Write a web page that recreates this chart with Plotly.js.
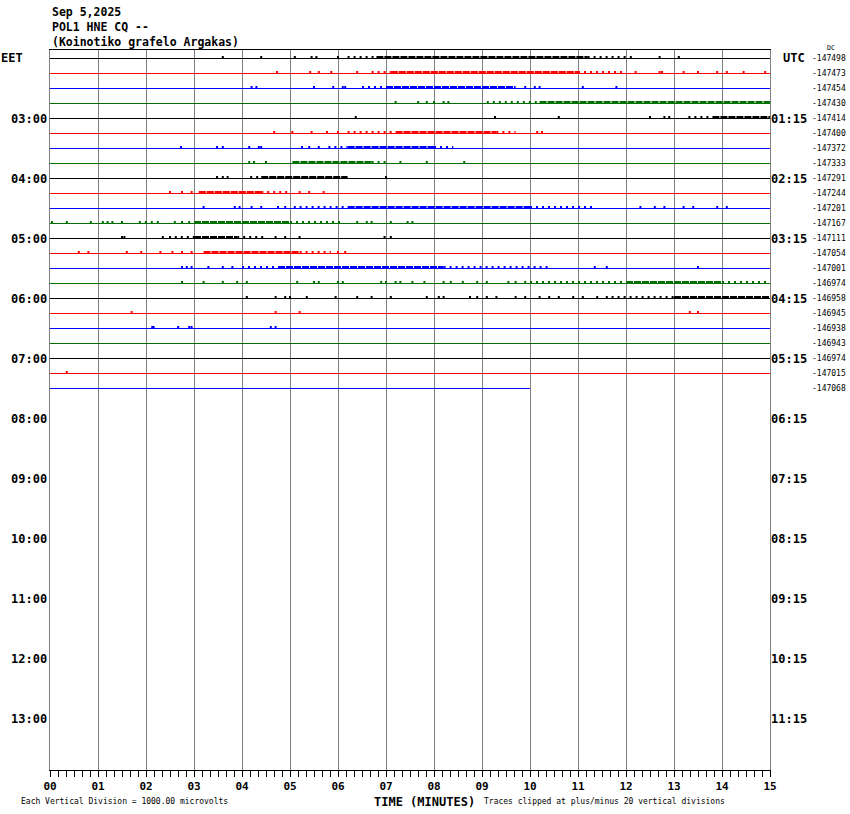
<!DOCTYPE html>
<html>
<head>
<meta charset="utf-8">
<script src="https://cdn.plot.ly/plotly-3.0.1.min.js"></script>
<style>
  html, body { margin: 0; padding: 0; background: #fff; }
  #chart { width: 850px; height: 814px; }
</style>
</head>
<body>
<div id="chart"></div>
<script>
// ---------------- DATA ----------------
const headerLines = ['Sep 5,2025', 'POL1 HNE CQ --', '(Koinotiko grafelo Argakas)'];
const firstRowHourEET = 2;          // first trace row starts at 02:00 EET
const rowMinutes = 15;              // each row covers 15 minutes
const lastRowEndMinute = 10;        // last row stops at minute 10
const eetHours = [3, 4, 5, 6, 7, 8, 9, 10, 11, 12, 13];
const eetLabels = ['03:00', '04:00', '05:00', '06:00', '07:00', '08:00', '09:00', '10:00', '11:00', '12:00', '13:00'];
const utcLabels = ['01:15', '02:15', '03:15', '04:15', '05:15', '06:15', '07:15', '08:15', '09:15', '10:15', '11:15'];
const xTickValues = [0, 1, 2, 3, 4, 5, 6, 7, 8, 9, 10, 11, 12, 13, 14, 15];
const xTickLabels = ['00', '01', '02', '03', '04', '05', '06', '07', '08', '09', '10', '11', '12', '13', '14', '15'];
const rowDC = [-147498, -147473, -147454, -147430, -147414, -147400, -147372, -147333,
               -147291, -147244, -147201, -147167, -147111, -147054, -147001, -146974,
               -146958, -146945, -146938, -146943, -146974, -147015, -147068];

// noise: dense bands, medium bands (minutes), isolated spikes (minutes)
const denseBands = [
  [[6.8, 11.2]], [[7.1, 11.0]], [[7.0, 9.7]], [[10.2, 15]], [[13.8, 15]], [[7.2, 9.3]],
  [[6.2, 8.0]], [[5.05, 6.7]], [[4.4, 6.2]], [[3.1, 4.4]], [[6.2, 10.0]], [[3.0, 5.0]],
  [[3.0, 3.9]], [[3.2, 5.2]], [[4.75, 8.2]], [[12.0, 14.0]], [[13.0, 15.0]],
  [], [], [], [], [], []
];
const mediumBands = [
  [[6.2, 6.8], [11.2, 12.0]], [[6.7, 7.1], [11.0, 12.0]], [[6.5, 7.0]], [[9.1, 10.2]], [[13.3, 13.8]],
  [[6.2, 7.2], [9.3, 9.7]], [[5.8, 6.2], [8.0, 8.4]], [[6.7, 7.0]], [[4.17, 4.4]], [[4.4, 5.0]],
  [[5.2, 6.2], [10.0, 11.3]], [[1.85, 2.3], [5.0, 6.1]], [[2.6, 3.0], [3.9, 4.5]], [[5.2, 5.85]],
  [[4.0, 4.75], [8.2, 10.4]], [[10.0, 12.0], [14.0, 15.0]], [[11.7, 13.0]],
  [], [], [], [], [], []
];
const spikes = [
  [3.6, 4.4, 5.1, 5.45, 5.55, 6.0, 12.1, 12.7, 13.1],
  [4.73, 5.42, 5.6, 5.86, 6.4, 12.2, 12.7, 12.75, 13.2, 13.5, 13.9, 14.1, 14.45, 14.9],
  [4.2, 4.3, 5.5, 5.9, 6.1, 6.15, 9.9, 10.1, 10.2, 11.1, 11.8],
  [7.2, 7.67, 7.85, 8.0, 8.2, 8.3],
  [6.37, 9.27, 10.6, 12.5, 12.8, 12.9],
  [4.67, 5.05, 5.45, 5.77, 6.0, 10.15, 10.25],
  [2.73, 3.48, 3.6, 4.15, 4.35, 4.4, 5.25, 5.4, 5.6],
  [4.15, 4.25, 4.5, 7.3, 7.85, 8.63],
  [3.48, 3.6, 3.7, 7.0],
  [2.5, 2.75, 2.95, 5.2, 5.4, 5.7],
  [3.2, 3.85, 3.95, 4.2, 4.4, 4.75, 4.9, 5.1, 12.3, 12.6, 12.8, 13.2, 13.4, 13.9, 14.1],
  [0.04, 0.35, 0.85, 1.1, 1.2, 1.3, 1.5, 2.6, 2.75, 2.9, 6.4, 6.6, 6.7, 7.1, 7.45, 7.55],
  [1.5, 1.55, 2.35, 2.5, 4.7, 4.9, 5.2, 6.97, 7.1],
  [0.6, 0.8, 1.6, 1.9, 2.3, 2.55, 2.75, 2.95, 6.0, 6.15],
  [2.75, 2.85, 2.95, 3.3, 3.6, 3.8, 11.35, 11.6, 13.5],
  [2.75, 3.2, 3.6, 3.9, 4.1, 5.15, 5.5, 5.6, 6.0, 6.1, 6.9, 7.0, 7.2, 7.3, 7.55, 7.8, 8.2, 8.35, 8.6, 8.9, 9.1, 9.55, 9.7, 9.9],
  [4.1, 4.7, 4.9, 5.0, 5.35, 5.95, 6.4, 6.7, 7.1, 7.85, 8.1, 8.2, 8.75, 8.9, 9.1, 9.3, 9.7, 9.9, 10.2, 10.4, 10.6, 10.9, 11.1, 11.4, 11.6],
  [1.7, 4.7, 5.2, 13.33, 13.5],
  [2.13, 2.16, 2.67, 2.9, 2.95, 4.6, 4.7],
  [], [], [0.35], []
];
const footLeft = 'Each Vertical Division = 1000.00 microvolts';
const footMid = 'TIME (MINUTES)';
const footRight = 'Traces clipped at plus/minus 20 vertical divisions';

// ---------------- STYLE / GEOMETRY ----------------
const W = 850, H = 814;
const M = { l: 50, r: 80, t: 50, b: 44 };
const plotH = H - M.t - M.b;               // 720
const hoursShown = 12;
const pxPerHour = plotH / hoursShown;      // 60
const PX = 1 / pxPerHour;                  // one pixel in hours
const yTop = firstRowHourEET - 8.5 * PX;
const yBottom = yTop + hoursShown;
const colors = ['#000000', '#ff0000', '#0000ff', '#007000'];
const MONO = 'DejaVu Sans Mono, Liberation Mono, monospace';

const nRows = rowDC.length;
const rowY = i => firstRowHourEET + i * rowMinutes / 60;

const groups = colors.map(() => ({ base: { x: [], y: [] }, dense: { x: [], y: [] }, med: { x: [], y: [] }, spk: { x: [], y: [] } }));
function seg(g, x0, x1, y0, y1) { g.x.push(x0, x1, null); g.y.push(y0, y1, null); }

for (let i = 0; i < nRows; i++) {
  const g = groups[i % 4];
  const y = rowY(i);
  const end = (i === nRows - 1) ? lastRowEndMinute : rowMinutes;
  seg(g.base, 0, end, y, y);
  denseBands[i].forEach(b => seg(g.dense, b[0], b[1], y - 1.5 * PX, y - 1.5 * PX));
  mediumBands[i].forEach(b => seg(g.med, b[0], b[1], y - 1.5 * PX, y - 1.5 * PX));
  spikes[i].forEach(m => seg(g.spk, m, m, y, y - 2.5 * PX));
}

const traces = [];
groups.forEach((g, k) => {
  const c = colors[k];
  traces.push({ type: 'scatter', mode: 'lines', x: g.base.x, y: g.base.y, line: { color: c, width: 1.2 }, hoverinfo: 'skip', connectgaps: false });
  traces.push({ type: 'scatter', mode: 'lines', x: g.dense.x, y: g.dense.y, line: { color: c, width: 2, dash: '7px,1px' }, hoverinfo: 'skip' });
  traces.push({ type: 'scatter', mode: 'lines', x: g.med.x, y: g.med.y, line: { color: c, width: 2, dash: '2px,4px' }, hoverinfo: 'skip' });
  traces.push({ type: 'scatter', mode: 'lines', x: g.spk.x, y: g.spk.y, line: { color: c, width: 2 }, hoverinfo: 'skip' });
});

const annotations = [];
const fontB = (s) => ({ family: MONO, size: s, color: '#000', weight: 'bold' });
const fontN = (s) => ({ family: MONO, size: s, color: '#000' });

// header
const headerPx = [12, 26.5, 41.5];
headerLines.forEach((t, i) => annotations.push({
  text: t, xref: 'paper', yref: 'paper', x: 0, y: 1, xanchor: 'left', yanchor: 'middle',
  yshift: M.t - headerPx[i], showarrow: false, font: fontB(11.5)
}));
// left EET / right UTC headers
annotations.push({ text: 'EET', xref: 'paper', yref: 'y', x: 0, y: rowY(0), xanchor: 'left', xshift: -M.l - 1, yanchor: 'middle', yshift: 1, showarrow: false, font: fontB(12) });
annotations.push({ text: 'UTC', xref: 'paper', yref: 'y', x: 1, y: rowY(0), xanchor: 'right', xshift: 37, yanchor: 'middle', yshift: 1, showarrow: false, font: fontB(12) });
// hour labels
eetHours.forEach((h, i) => {
  annotations.push({ text: eetLabels[i], xref: 'paper', yref: 'y', x: 0, y: h, xanchor: 'right', xshift: -1, yanchor: 'middle', showarrow: false, font: fontB(12) });
  annotations.push({ text: utcLabels[i], xref: 'paper', yref: 'y', x: 1, y: h, xanchor: 'right', xshift: 39, yanchor: 'middle', showarrow: false, font: fontB(12) });
});
// DC values
rowDC.forEach((v, i) => annotations.push({
  text: '-' + Math.abs(v), xref: 'paper', yref: 'y', x: 1, y: rowY(i), xanchor: 'left', xshift: 40,
  yanchor: 'middle', showarrow: false, font: fontN(8)
}));
annotations.push({ text: 'DC', xref: 'paper', yref: 'paper', x: 1, y: 1, xanchor: 'left', xshift: 55, yanchor: 'middle', yshift: 2, showarrow: false, font: fontN(6.5) });
// footer
annotations.push({ text: footLeft, xref: 'paper', yref: 'paper', x: 0, y: 0, xanchor: 'left', xshift: -M.l + 19, yanchor: 'middle', yshift: -31, showarrow: false, font: fontN(8) });
annotations.push({ text: footMid, xref: 'paper', yref: 'paper', x: 0.5, y: 0, xanchor: 'center', xshift: 14, yanchor: 'middle', yshift: -32, showarrow: false, font: fontB(12) });
annotations.push({ text: footRight, xref: 'paper', yref: 'paper', x: 0, y: 0, xanchor: 'left', xshift: 432, yanchor: 'middle', yshift: -31, showarrow: false, font: fontN(8) });

const layout = {
  width: W, height: H,
  margin: M,
  paper_bgcolor: '#ffffff', plot_bgcolor: '#ffffff',
  showlegend: false,
  xaxis: {
    range: [0, rowMinutes], tickmode: 'array', tickvals: xTickValues, ticktext: xTickLabels,
    showgrid: true, gridcolor: '#808080', gridwidth: 1, zeroline: false,
    showline: true, linecolor: '#000', linewidth: 1, mirror: true,
    ticks: 'outside', ticklen: 6, tickcolor: '#000', tickwidth: 1,
    minor: { tick0: 0, dtick: 1 / 6, ticks: 'outside', ticklen: 6, tickcolor: '#000', tickwidth: 1, showgrid: false },
    tickfont: fontB(11), ticklabelstandoff: 0, fixedrange: true
  },
  yaxis: {
    range: [yBottom, yTop], showgrid: false, zeroline: false, showticklabels: false, ticks: '',
    showline: true, linecolor: '#808080', linewidth: 1, mirror: true, fixedrange: true
  },
  annotations: annotations
};

Plotly.newPlot('chart', traces, layout, { staticPlot: true, displayModeBar: false });
</script>
</body>
</html>
